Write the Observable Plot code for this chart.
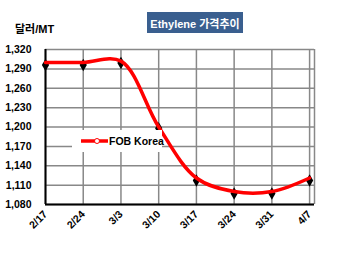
<!DOCTYPE html>
<html><head><meta charset="utf-8">
<script src="https://cdn.jsdelivr.net/npm/d3@7"></script>
<script src="https://cdn.jsdelivr.net/npm/@observablehq/plot@0.6"></script>
<style>
body{margin:0;background:#fff;font-family:"Liberation Sans",Arial,sans-serif;}
#wrap{position:relative;width:350px;height:253px;overflow:hidden;}
#wrap > svg{position:absolute;left:0;top:0;}
.title{position:absolute;left:147px;top:12px;width:96px;height:21px;background:#3a5f8f;color:#fff;font:bold 11px "Liberation Sans","Noto Sans CJK KR",sans-serif;display:flex;align-items:center;justify-content:center;white-space:nowrap;}
.ylab{position:absolute;left:15px;top:20px;font:bold 11px "Liberation Sans","Noto Sans CJK KR",sans-serif;color:#000;}
.legend{position:absolute;left:72px;top:130px;width:90px;height:22px;background:#fff;display:flex;align-items:center;white-space:nowrap;font:bold 10.5px "Liberation Sans",Arial,sans-serif;color:#000;}
</style></head><body><div id="wrap"></div>
<script>
const dates = ["2/17","2/24","3/3","3/10","3/17","3/24","3/31","4/7"];
const fobKorea = [1300,1300,1302,1200,1121,1100,1100,1121];
const markerValues = [1296,1296,1299,1198,1117,1097,1097,1117];
const yTicks = [1080,1110,1140,1170,1200,1230,1260,1290,1320];
const seriesName = "FOB Korea";
const titleText = "Ethylene 가격추이";
const unitText = "달러/MT";

const idx = dates.map((d,i)=>i);
const line = idx.map(i=>({x:i, y:fobKorea[i]}));
const marks = idx.map(i=>({x:i, y:markerValues[i]}));
const xMax = 7.13;

const chart = Plot.plot({
  width:350, height:253,
  marginLeft:45, marginRight:36, marginTop:49, marginBottom:49,
  style:{fontFamily:"'Liberation Sans',Arial,sans-serif", fontSize:"10px", fontWeight:"bold", color:"#000", background:"transparent"},
  x:{type:"linear", domain:[0,xMax], axis:null, label:null},
  y:{domain:[1080,1320], axis:null, label:null},
  marks:[
    Plot.ruleY(yTicks, {stroke:"#888", strokeWidth:1.5, strokeOpacity:1}),
    Plot.ruleX(idx, {stroke:"#888", strokeWidth:1.5, strokeOpacity:1}),
    Plot.ruleX([xMax], {stroke:"#888", strokeWidth:1.5}),
    Plot.ruleX([0], {stroke:"#000", strokeWidth:2}),
    Plot.ruleY([1080], {stroke:"#000", strokeWidth:2}),
    Plot.axisY({ticks:yTicks, label:null, tickSize:0, tickPadding:14, tickFormat:d=>d3.format(",")(d), fontSize:10.5, fontWeight:"bold"}),
    Plot.axisX({ticks:idx, label:null, tickSize:0, tickPadding:8, tickRotate:-45, tickFormat:i=>dates[i], fontSize:10.5, fontWeight:"bold"}),
    Plot.dot(marks, {x:"x", y:"y", symbol:"diamond", fill:"#000", r:3.8}),
    Plot.line(line, {x:"x", y:"y", stroke:"#ff0000", strokeWidth:3.5, curve:"catmull-rom"})
  ]
});
const wrap = document.getElementById("wrap");
wrap.appendChild(chart);
const t = document.createElement("div"); t.className="title"; t.textContent=titleText; wrap.appendChild(t);
const u = document.createElement("div"); u.className="ylab"; u.textContent=unitText; wrap.appendChild(u);
const lg = document.createElement("div"); lg.className="legend";
lg.innerHTML = '<svg width="29" height="10" style="margin-left:8px;flex:none"><line x1="1" y1="5" x2="28" y2="5" stroke="#ff0000" stroke-width="3.5"/><circle cx="17" cy="5" r="2.5" fill="#fff" stroke="#ff0000" stroke-width="1"/></svg><span></span>';
lg.querySelector("span").textContent = seriesName;
wrap.appendChild(lg);
</script>
</body></html>
